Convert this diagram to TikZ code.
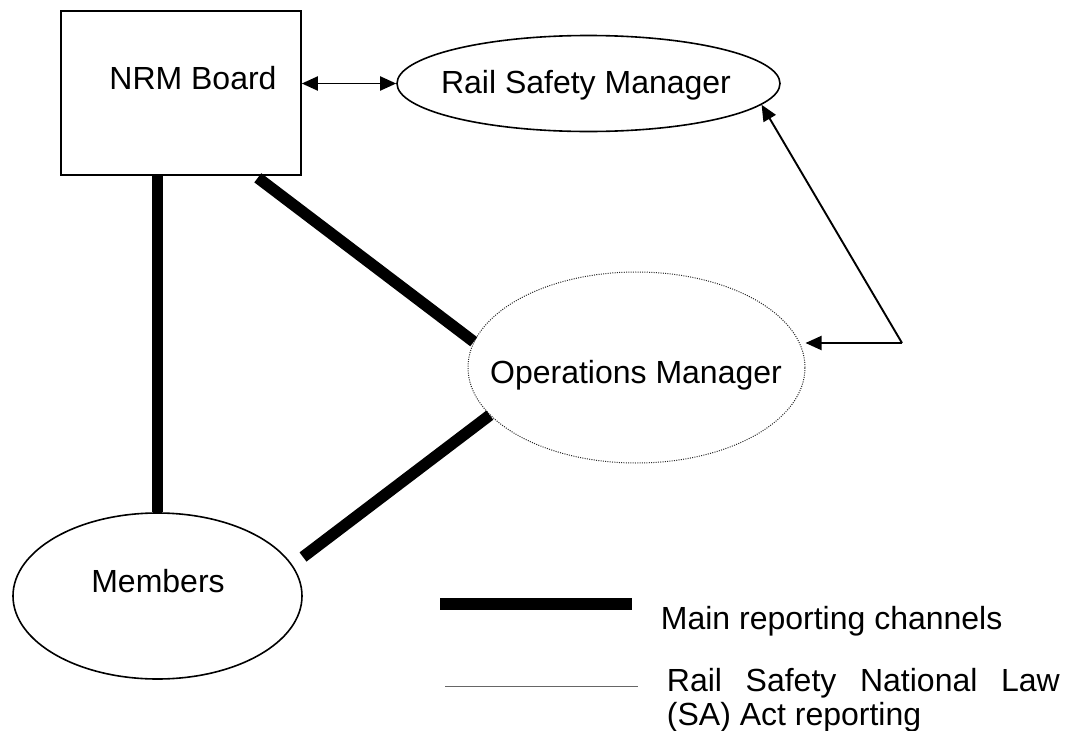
\documentclass[tikz,border=0pt]{standalone}
\usepackage{fontspec}
\setmainfont{Liberation Sans}
\usetikzlibrary{arrows.meta,calc,shapes.geometric}
\begin{document}
\begin{tikzpicture}[x=1pt,y=-1pt,
  lbl/.style={inner sep=0pt,font=\fontsize{32}{38}\selectfont,anchor=base},
  boxshape/.style={draw,line width=1.6pt,inner sep=0pt,rectangle},
  ellshape/.style={draw,line width=1.6pt,inner sep=0pt,ellipse},
  dotshape/.style={draw,line width=1pt,inner sep=0pt,ellipse,dash pattern=on 1pt off 1.3pt,draw=black!85},
  mainline/.style={line width=11.5pt},
  tip/.tip={Triangle[length=16pt,width=14pt]},
  arr/.style={line width=1.9pt,-tip},
  darr/.style={line width=1.9pt,tip-tip}
]
\useasboundingbox (0,0) rectangle (1082,731);

% nodes
\node[boxshape,minimum width=240pt,minimum height=164pt] (board) at (181,93) {};
\node[lbl] (boardtxt) at (193,89) {NRM Board};

\node[ellshape,minimum width=383pt,minimum height=96pt] (rsm) at (588.5,83.5) {};
\node[lbl] (rsmtxt) at (586,93) {Rail Safety Manager};

\node[dotshape,minimum width=337pt,minimum height=191pt] (om) at (636.5,367.5) {};
\node[lbl] (omtxt) at (636,383) {Operations Manager};

\node[ellshape,minimum width=289pt,minimum height=166pt] (mem) at (157.5,596) {};
\node[lbl] (memtxt) at (158,592) {Members};

% main reporting channels
\draw[mainline] (mem.north |- board.south) -- (mem.north);
\draw[mainline] ([xshift=-44pt,yshift=-2pt]board.south east) -- (om.171);
\draw[mainline] (om.198) -- ([shift={(145.5,-39)}]mem.center);

% rail safety reporting arrows
\draw[darr] (rsm.west -| board.east) -- (rsm.west);
\coordinate (corner) at (902,343);
\draw[arr] (corner) -- (rsm.-7.1);
\draw[arr] (corner) -- (corner -| om.east);

% legend
\coordinate (l1a) at (440,604);
\coordinate (l1b) at (632,604);
\draw[mainline] (l1a) -- (l1b);
\node[lbl,anchor=base west] (leg1) at (660.7,629.3) {Main reporting channels};

\coordinate (l2a) at (445,686.7);
\coordinate (l2b) at (637.5,686.7);
\draw[line width=1.5pt,black!60] (l2a) -- (l2b);
\node[lbl,anchor=base west] (leg2) at (666.7,691.5) {\makebox[393pt][s]{Rail Safety National Law}};
\node[lbl,anchor=base west] (leg3) at (666.7,725) {(SA) Act reporting};
\end{tikzpicture}
\end{document}
